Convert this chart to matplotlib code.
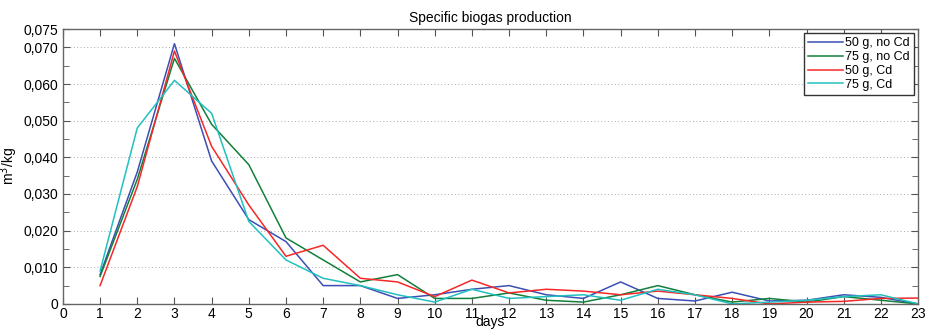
import matplotlib.pyplot as plt
from matplotlib.ticker import FuncFormatter, MultipleLocator

days = list(range(1, 24))

g50_no_cd = [0.008, 0.036, 0.071, 0.039, 0.023, 0.017, 0.005, 0.005, 0.0015, 0.0025,
             0.004, 0.005, 0.0025, 0.0015, 0.006, 0.0015, 0.0008, 0.0032, 0.0008, 0.001,
             0.0025, 0.0018, 0.0]
g75_no_cd = [0.0075, 0.034, 0.067, 0.049, 0.038, 0.018, 0.012, 0.006, 0.008, 0.0015,
             0.0015, 0.003, 0.001, 0.0005, 0.0025, 0.005, 0.0025, 0.0005, 0.0015, 0.0005,
             0.002, 0.001, 0.0]
g50_cd = [0.005, 0.032, 0.069, 0.043, 0.027, 0.013, 0.016, 0.007, 0.006, 0.002,
          0.0065, 0.003, 0.004, 0.0035, 0.0025, 0.0035, 0.0025, 0.0015, 0.0, 0.0005,
          0.0007, 0.0015, 0.0016]
g75_cd = [0.009, 0.048, 0.061, 0.052, 0.0225, 0.012, 0.007, 0.005, 0.0025, 0.0005,
          0.004, 0.0015, 0.002, 0.0025, 0.001, 0.004, 0.0025, 0.0, 0.0005, 0.001,
          0.002, 0.0025, 0.0]

series = [
    ("50 g, no Cd", g50_no_cd, "#3c4fb4"),
    ("75 g, no Cd", g75_no_cd, "#11803a"),
    ("50 g, Cd", g50_cd, "#f52828"),
    ("75 g, Cd", g75_cd, "#22c0c0"),
]

plt.rcParams["font.family"] = ["Liberation Sans", "DejaVu Sans"]

fig = plt.figure(figsize=(9.25, 3.3), dpi=100)
ax = fig.add_axes([0.068, 0.079, 0.9245, 0.833])

for label, vals, color in series:
    ax.plot(days, vals, color=color, lw=1.1, label=label)

ax.set_xlim(0, 23)
ax.set_ylim(0, 0.075)
ax.set_xticks(range(0, 24))
ax.set_yticks([0, 0.01, 0.02, 0.03, 0.04, 0.05, 0.06, 0.07, 0.075])
ax.yaxis.set_minor_locator(MultipleLocator(0.005))


def fmt(v, pos):
    if abs(v) < 1e-9:
        return "0"
    return f"{v:.3f}".replace(".", ",")


ax.yaxis.set_major_formatter(FuncFormatter(fmt))
ax.tick_params(which="both", direction="in", top=True, right=True, labelsize=10,
               color="#555555")
ax.tick_params(axis="x", pad=2)
ax.tick_params(which="major", length=5)
ax.tick_params(which="minor", length=4)

for y in [0.01, 0.02, 0.03, 0.04, 0.05, 0.06, 0.07]:
    ax.axhline(y, color="#aaaaaa", lw=0.7, ls=(0, (1, 2.5)), zorder=0)

for s in ax.spines.values():
    s.set_color("#666666")
    s.set_linewidth(1.0)

ax.set_title("Specific biogas production", fontsize=10, pad=5)
ax.set_xlabel("days", fontsize=10, labelpad=-4)
ax.set_ylabel("m$^3$/kg", fontsize=10, labelpad=2)

leg = ax.legend(loc="upper right", fontsize=9, handlelength=2.8, handletextpad=0.2,
                borderpad=0.3, labelspacing=0.15, fancybox=False, framealpha=1,
                borderaxespad=0.35)
leg.get_frame().set_edgecolor("#333333")
leg.get_frame().set_linewidth(1.0)

fig.savefig("out.png", dpi=100)
